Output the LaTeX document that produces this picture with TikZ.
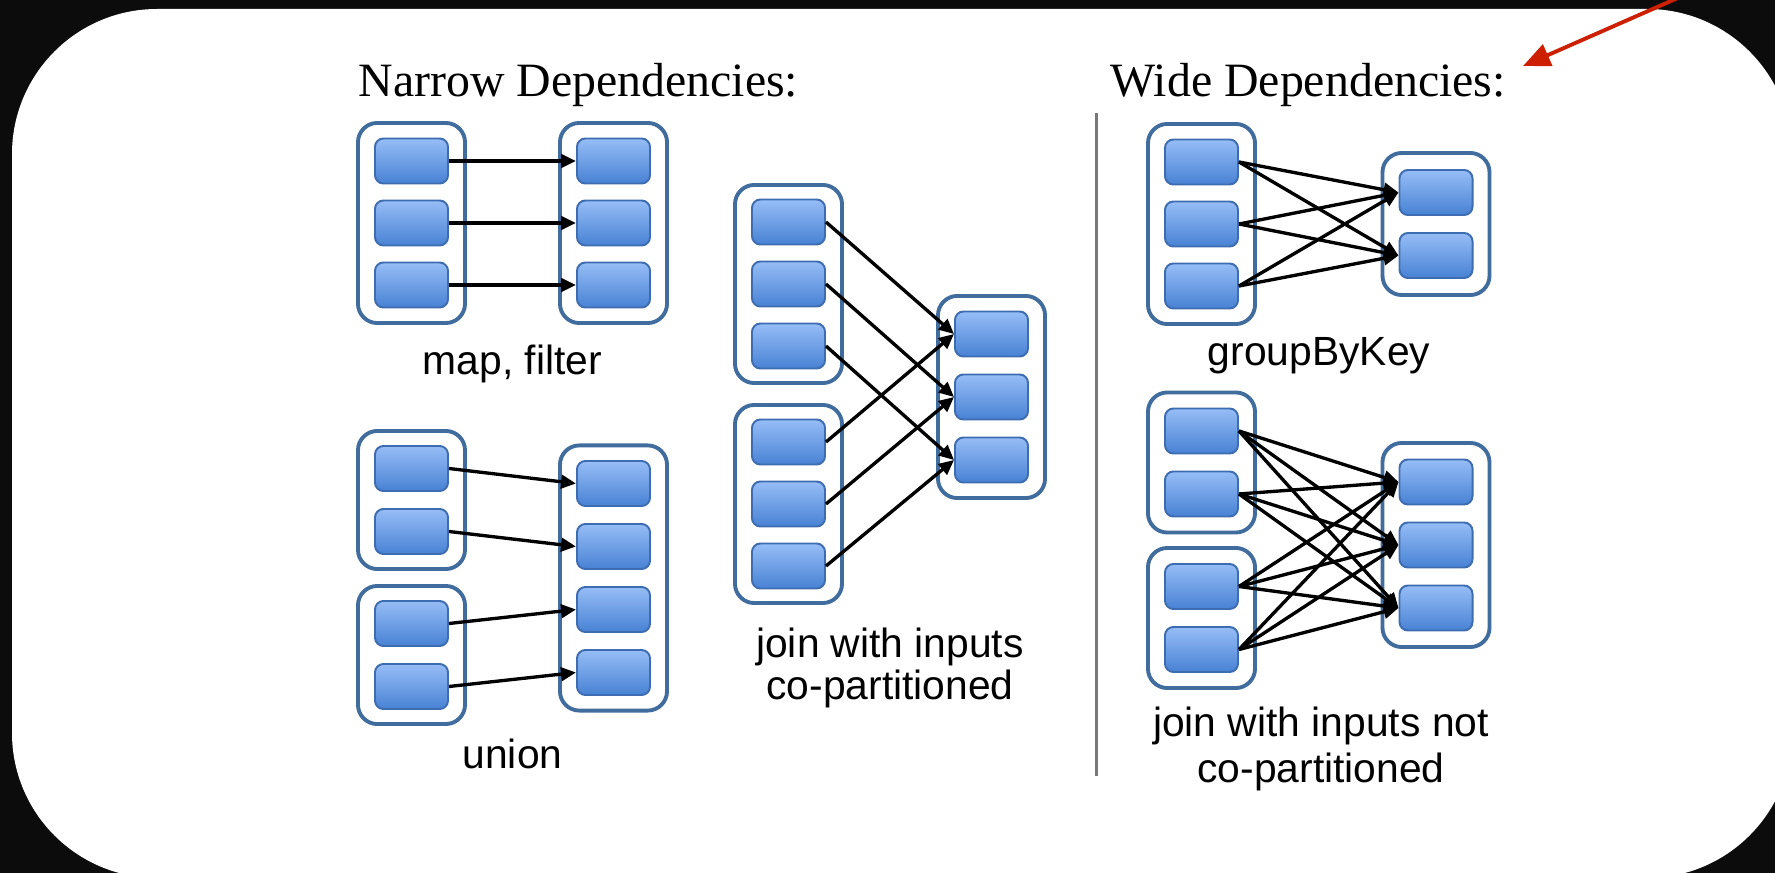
\documentclass[tikz,border=0pt]{standalone}
\usepackage{fontspec}
\setmainfont{Liberation Serif}
\setsansfont{Liberation Sans}
\usetikzlibrary{arrows.meta}
\definecolor{bgblack}{RGB}{12,12,12}
\definecolor{partTop}{RGB}{150,189,246}
\definecolor{partBot}{RGB}{72,130,212}
\definecolor{partEdge}{RGB}{62,108,176}
\definecolor{rddEdge}{RGB}{64,108,158}
\definecolor{sepGrey}{RGB}{120,120,120}
\definecolor{noteRed}{RGB}{204,32,0}
\begin{document}
\begin{tikzpicture}[x=0.01cm,y=-0.01cm,
  part/.style={draw=partEdge, line width=0.55pt, top color=partTop, bottom color=partBot,
    rounded corners=2.4pt, minimum width=0.73cm, minimum height=0.45cm, inner sep=0pt},
  rdd/.style={draw=rddEdge, line width=1.1pt, fill=white, rounded corners=5.5pt,
    minimum width=1.07cm, inner sep=0pt},
  dep/.style={draw=black, line width=0.95pt, -{Triangle[length=0.15cm,width=0.135cm]}},
  sepline/.style={draw=sepGrey, line width=0.85pt},
  redarrow/.style={draw=noteRed, line width=1.1pt, -{Triangle[length=0.27cm,width=0.23cm]}},
  title/.style={font=\fontsize{13.6}{16}\selectfont, anchor=base west, inner sep=0pt},
  caption/.style={font=\sffamily\fontsize{11.6}{11.7}\selectfont, align=center, inner sep=0pt},
]
\useasboundingbox (0,0) rectangle (1775,873);
\clip (0,0) rectangle (1775,873);
\fill[bgblack] (0,0) rectangle (1775,873);
\fill[white, rounded corners=1.45cm] (12,9) rectangle (1792,878);

% titles
\node[title] (tNarrow) at (358,97) {Narrow Dependencies:};
\node[title] (tWide) at (1110,97) {Wide Dependencies:};

% red pointer
\coordinate (redTail) at (1705,-14);
\coordinate (redTip) at (1523,66);
\draw[redarrow] (redTail) -- (redTip);

% separator
\coordinate (sepTop) at (1096,113);
\coordinate (sepBot) at (1096,776);
\draw[sepline] (sepTop) -- (sepBot);

% ---------- map, filter ----------
\node[rdd, minimum height=2cm] (mfLc) at (411.5,223) {};
\node[rdd, minimum height=2cm] (mfRc) at (613.5,223) {};
\node[part] (mfL1) at (411.5,161) {};
\node[part] (mfL2) at (411.5,223) {};
\node[part] (mfL3) at (411.5,285) {};
\node[part] (mfR1) at (613.5,161) {};
\node[part] (mfR2) at (613.5,223) {};
\node[part] (mfR3) at (613.5,285) {};
\foreach \i in {1,2,3} \draw[dep] (mfL\i.east) -- (mfR\i.west);
\node[caption, anchor=base] (capMap) at (512.5,375) {map, filter};

% ---------- union ----------
\node[rdd, minimum height=1.38cm] (uLc1) at (411.5,500) {};
\node[rdd, minimum height=1.38cm] (uLc2) at (411.5,655) {};
\node[rdd, minimum height=2.65cm] (uRc) at (613.5,578) {};
\node[part] (uL1) at (411.5,468.5) {};
\node[part] (uL2) at (411.5,531.5) {};
\node[part] (uL3) at (411.5,623.5) {};
\node[part] (uL4) at (411.5,686.5) {};
\node[part] (uR1) at (613.5,483.5) {};
\node[part] (uR2) at (613.5,546.5) {};
\node[part] (uR3) at (613.5,609.5) {};
\node[part] (uR4) at (613.5,672.5) {};
\foreach \i in {1,2,3,4} \draw[dep] (uL\i.east) -- (uR\i.west);
\node[caption, anchor=base] (capUnion) at (512.5,768) {union};

% ---------- join with inputs co-partitioned ----------
\node[rdd, minimum height=1.98cm] (jLc1) at (788.5,284) {};
\node[rdd, minimum height=1.98cm] (jLc2) at (788.5,504) {};
\node[rdd, minimum height=2.02cm] (jRc) at (991.5,397) {};
\node[part] (jL1) at (788.5,222) {};
\node[part] (jL2) at (788.5,284) {};
\node[part] (jL3) at (788.5,346) {};
\node[part] (jL4) at (788.5,442) {};
\node[part] (jL5) at (788.5,504) {};
\node[part] (jL6) at (788.5,566) {};
\node[part] (jR1) at (991.5,334) {};
\node[part] (jR2) at (991.5,397) {};
\node[part] (jR3) at (991.5,460) {};
\foreach \i in {1,2,3} \draw[dep] (jL\i.east) -- (jR\i.west);
\foreach \i/\j in {4/1,5/2,6/3} \draw[dep] (jL\i.east) -- (jR\j.west);
\node[caption] (capJoin) at (890,668) {join with inputs\\co-partitioned};

% ---------- groupByKey ----------
\node[rdd, minimum height=2cm] (gLc) at (1201.5,224) {};
\node[rdd, minimum height=1.42cm] (gRc) at (1436,224) {};
\node[part] (gL1) at (1201.5,162) {};
\node[part] (gL2) at (1201.5,224) {};
\node[part] (gL3) at (1201.5,286) {};
\node[part] (gR1) at (1436,192.5) {};
\node[part] (gR2) at (1436,255.5) {};
\foreach \i in {1,2,3} \foreach \j in {1,2} \draw[dep] (gL\i.east) -- (gR\j.west);
\node[caption, anchor=base] (capGroup) at (1319,366) {groupByKey};

% ---------- join with inputs not co-partitioned ----------
\node[rdd, minimum height=1.40cm] (wLc1) at (1201.5,462.5) {};
\node[rdd, minimum height=1.40cm] (wLc2) at (1201.5,618) {};
\node[rdd, minimum height=2.04cm] (wRc) at (1436,545) {};
\node[part] (wL1) at (1201.5,431) {};
\node[part] (wL2) at (1201.5,494) {};
\node[part] (wL3) at (1201.5,586.5) {};
\node[part] (wL4) at (1201.5,649.5) {};
\node[part] (wR1) at (1436,482) {};
\node[part] (wR2) at (1436,545) {};
\node[part] (wR3) at (1436,608) {};
\foreach \i in {1,2,3,4} \foreach \j in {1,2,3} \draw[dep] (wL\i.east) -- (wR\j.west);
\node[caption, font=\sffamily\fontsize{11.6}{13.3}\selectfont] (capWide) at (1321,749) {join with inputs not\\co-partitioned};
\end{tikzpicture}
\end{document}
